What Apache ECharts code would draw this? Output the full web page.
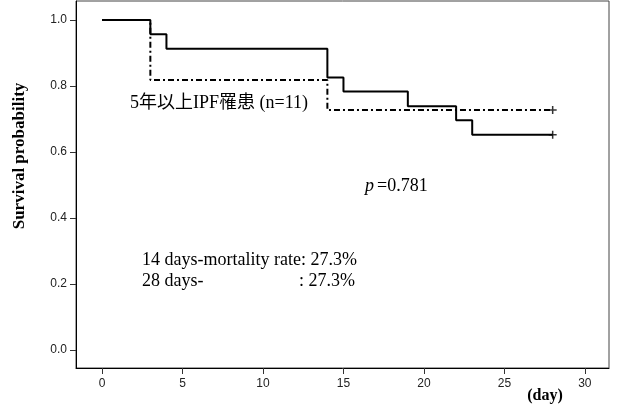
<!DOCTYPE html>
<html>
<head>
<meta charset="utf-8">
<script src="https://cdn.jsdelivr.net/npm/echarts@6/dist/echarts.min.js"></script>
<style>html,body{margin:0;padding:0;background:#fff}#c{width:618px;height:407px}</style>
</head>
<body>
<div id="c"></div>
<script>
// Group A (solid)
const daysA = [0, 3, 4, 14, 15, 19, 22, 23, 28];
const survA = [1.0, 0.957, 0.913, 0.826, 0.783, 0.739, 0.696, 0.652, 0.652];
// Group B (dash-dot): 5年以上IPF罹患 (n=11)
const daysB = [0, 3, 14, 28];
const survB = [1.0, 0.818, 0.727, 0.727];
// Censor marks
const censor = [[28, 0.652], [28, 0.727]];
const xTicks = [0, 5, 10, 15, 20, 25, 30];
const yTicks = [0.0, 0.2, 0.4, 0.6, 0.8, 1.0];

const serif = '"Liberation Serif","Times New Roman","Noto Sans CJK JP",serif';
const sans = '"Liberation Sans",Arial,sans-serif';
const plus = 'path://M3,0h1.4v3h3v1.4h-3v3h-1.4v-3h-3v-1.4h3z';

const chart = echarts.init(document.getElementById('c'), null, {renderer: 'canvas'});
chart.setOption({
  animation: false,
  backgroundColor: '#fff',
  grid: {left: 76, right: 9, top: 1, bottom: 39, show: true, borderColor: '#444', borderWidth: 1,
         outerBoundsMode: 'none', containLabel: false},
  xAxis: {
    type: 'value', min: -1.62, max: 31.5,
    axisLine: {show: true, onZero: false, lineStyle: {color: '#000', width: 1}},
    axisTick: {show: true, length: 6, customValues: xTicks, lineStyle: {color: '#333'}},
    axisLabel: {customValues: xTicks, margin: 10, color: '#222', fontFamily: sans, fontSize: 12},
    splitLine: {show: false}
  },
  yAxis: {
    type: 'value', min: -0.0545, max: 1.0576,
    axisLine: {show: true, onZero: false, lineStyle: {color: '#000', width: 1}},
    axisTick: {show: true, length: 6, customValues: yTicks, lineStyle: {color: '#333'}},
    axisLabel: {customValues: yTicks, margin: 9, color: '#222', fontFamily: sans, fontSize: 12,
      formatter: v => v.toFixed(1)},
    splitLine: {show: false}
  },
  series: [
    {
      type: 'line', step: 'end', symbol: 'none',
      data: daysB.map((d, i) => [d, survB[i]]),
      lineStyle: {color: '#000', width: 2, type: [6, 3, 2, 3]}
    },
    {
      type: 'line', step: 'end', symbol: 'none',
      data: daysA.map((d, i) => [d, survA[i]]),
      lineStyle: {color: '#000', width: 2, type: 'solid'}
    },
    {
      type: 'scatter', symbol: plus, symbolSize: 8,
      itemStyle: {color: '#000'},
      data: censor
    }
  ],
  graphic: [
    {type: 'text', x: 20, y: 156, rotation: Math.PI / 2,
     style: {text: 'Survival probability', font: 'bold 17px ' + serif, fill: '#000', textAlign: 'center', textVerticalAlign: 'middle'}},
    {type: 'text', style: {x: 130, y: 103, text: '5年以上IPF罹患 (n=11)', font: '18px ' + serif, fill: '#000', textVerticalAlign: 'middle'}},
    {type: 'text', style: {x: 365, y: 186, text: 'p', font: 'italic 18px ' + serif, fill: '#000', textVerticalAlign: 'middle'}},
    {type: 'text', style: {x: 377, y: 186, text: '=0.781', font: '18px ' + serif, fill: '#000', textVerticalAlign: 'middle'}},
    {type: 'text', style: {x: 142, y: 260, text: '14 days-mortality rate: 27.3%', font: '18px ' + serif, fill: '#000', textVerticalAlign: 'middle'}},
    {type: 'text', style: {x: 142, y: 281, text: '28 days-', font: '18px ' + serif, fill: '#000', textVerticalAlign: 'middle'}},
    {type: 'text', style: {x: 355, y: 281, text: ': 27.3%', font: '18px ' + serif, fill: '#000', textAlign: 'right', textVerticalAlign: 'middle'}},
    {type: 'text', style: {x: 545, y: 396, text: '(day)', font: 'bold 16px ' + serif, fill: '#000', textAlign: 'center', textVerticalAlign: 'middle'}}
  ]
});
</script>
</body>
</html>
